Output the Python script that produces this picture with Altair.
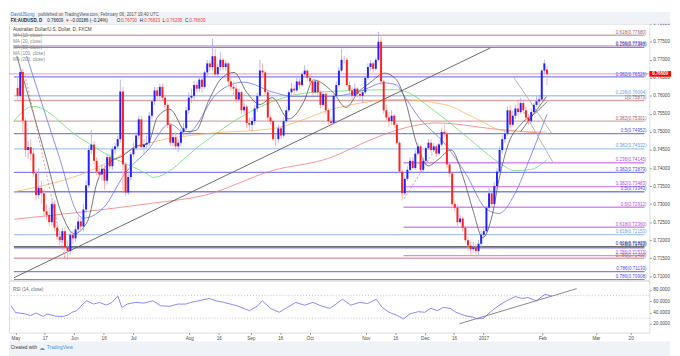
import altair as alt
import pandas as pd

# ---------------- data ----------------
# one bar per weekday; bar 0 = 2 May 2016, bar 200 = 6 Feb 2017
bar_first = -1
opens = [.7622,.7600,.7666,.7531,.7450,.7458,.7440,.7385,.7325,.7345,
         .7330,.7280,.7270,.7250,.7300,.7235,.7210,.7200,.7225,.7180,
         .7170,.7215,.7205,.7230,.7252,.7238,.7285,.7352,.7450,.7465,
         .7420,.7390,.7382,.7398,.7365,.7430,.7405,.7452,.7460,.7480,
         .7612,.7410,.7332,.7375,.7438,.7455,.7490,.7535,.7458,.7465,
         .7470,.7545,.7585,.7615,.7600,.7625,.7595,.7575,.7520,.7470,
         .7485,.7460,.7470,.7500,.7510,.7560,.7595,.7600,.7630,.7620,
         .7645,.7625,.7665,.7690,.7680,.7710,.7660,.7680,.7700,.7680,
         .7690,.7640,.7625,.7620,.7590,.7610,.7560,.7570,.7525,.7520,
         .7530,.7565,.7600,.7670,.7665,.7610,.7540,.7530,.7480,.7480,
         .7510,.7490,.7530,.7560,.7610,.7620,.7615,.7640,.7630,.7660,
         .7670,.7650,.7640,.7610,.7640,.7610,.7575,.7605,.7560,.7530,
         .7525,.7600,.7630,.7670,.7700,.7700,.7630,.7615,.7600,.7620,
         .7605,.7600,.7610,.7650,.7680,.7690,.7675,.7700,.7750,.7640,
         .7560,.7540,.7530,.7545,.7520,.7470,.7390,.7330,.7370,.7395,
         .7420,.7400,.7440,.7460,.7395,.7420,.7455,.7470,.7450,.7460,
         .7440,.7465,.7500,.7495,.7410,.7385,.7300,.7290,.7250,.7260,
         .7235,.7200,.7185,.7175,.7180,.7170,.7190,.7215,.7225,.7290,
         .7330,.7300,.7350,.7390,.7450,.7480,.7495,.7560,.7520,.7545,
         .7565,.7555,.7580,.7560,.7540,.7530,.7555,.7575,.7585,.7590,
         .7670,.7673]
highs = [.7650,.7680,.7675,.7540,.7475,.7480,.7455,.7395,.7400,.7365,
         .7340,.7300,.7290,.7310,.7310,.7245,.7225,.7235,.7235,.7200,
         .7225,.7225,.7240,.7265,.7262,.7300,.7365,.7460,.7505,.7475,
         .7430,.7400,.7410,.7410,.7440,.7440,.7460,.7470,.7490,.7645,
         .7625,.7415,.7385,.7445,.7470,.7500,.7545,.7545,.7480,.7490,
         .7555,.7590,.7625,.7625,.7635,.7635,.7600,.7580,.7525,.7495,
         .7500,.7480,.7510,.7525,.7570,.7610,.7620,.7640,.7640,.7655,
         .7650,.7670,.7700,.7700,.7758,.7730,.7690,.7720,.7705,.7700,
         .7695,.7650,.7640,.7630,.7620,.7615,.7580,.7575,.7540,.7540,
         .7575,.7610,.7700,.7690,.7670,.7615,.7545,.7535,.7495,.7520,
         .7515,.7540,.7570,.7615,.7635,.7630,.7650,.7650,.7665,.7685,
         .7675,.7660,.7645,.7645,.7645,.7615,.7610,.7610,.7565,.7540,
         .7605,.7640,.7680,.7730,.7710,.7705,.7640,.7625,.7635,.7625,
         .7615,.7615,.7655,.7690,.7700,.7695,.7705,.7778,.7765,.7645,
         .7575,.7555,.7560,.7550,.7525,.7475,.7395,.7380,.7405,.7430,
         .7430,.7450,.7470,.7465,.7430,.7460,.7480,.7480,.7470,.7465,
         .7470,.7510,.7520,.7500,.7415,.7390,.7310,.7300,.7270,.7265,
         .7240,.7210,.7195,.7195,.7190,.7200,.7225,.7235,.7295,.7345,
         .7340,.7360,.7400,.7460,.7490,.7505,.7570,.7575,.7560,.7575,
         .7590,.7595,.7590,.7570,.7550,.7565,.7580,.7600,.7600,.7675,
         .7700,.76823]
lows = [.7590,.7592,.7495,.7430,.7425,.7420,.7375,.7310,.7315,.7300,
        .7265,.7255,.7240,.7240,.7225,.7200,.7185,.7190,.7150,.7145,
        .7160,.7190,.7195,.7220,.7225,.7225,.7275,.7345,.7440,.7410,
        .7380,.7370,.7365,.7340,.7355,.7395,.7395,.7440,.7455,.7470,
        .7330,.7322,.7325,.7365,.7430,.7450,.7480,.7450,.7440,.7455,
        .7460,.7535,.7575,.7590,.7590,.7585,.7565,.7510,.7460,.7460,
        .7450,.7445,.7460,.7490,.7505,.7550,.7580,.7590,.7610,.7610,
        .7610,.7620,.7655,.7670,.7670,.7650,.7650,.7670,.7670,.7670,
        .7630,.7615,.7600,.7580,.7585,.7550,.7550,.7510,.7505,.7500,
        .7520,.7555,.7595,.7650,.7600,.7530,.7520,.7475,.7460,.7470,
        .7480,.7485,.7525,.7555,.7600,.7600,.7610,.7620,.7625,.7655,
        .7640,.7630,.7600,.7605,.7600,.7565,.7570,.7550,.7520,.7510,
        .7520,.7595,.7625,.7665,.7690,.7625,.7600,.7590,.7595,.7595,
        .7590,.7580,.7605,.7645,.7670,.7665,.7670,.7695,.7630,.7550,
        .7530,.7515,.7520,.7510,.7465,.7385,.7310,.7325,.7365,.7390,
        .7395,.7395,.7435,.7390,.7385,.7415,.7450,.7440,.7445,.7430,
        .7435,.7460,.7485,.7400,.7375,.7295,.7280,.7240,.7245,.7225,
        .7195,.7170,.7160,.7165,.7155,.7160,.7180,.7205,.7220,.7285,
        .7290,.7295,.7340,.7385,.7440,.7470,.7490,.7510,.7515,.7535,
        .7545,.7550,.7550,.7530,.7520,.7525,.7550,.7570,.7575,.7585,
        .7660,.76295]
closes = [.7600,.7666,.7531,.7450,.7458,.7440,.7385,.7325,.7345,.7330,
          .7280,.7270,.7250,.7300,.7235,.7210,.7200,.7225,.7180,.7170,
          .7215,.7205,.7230,.7252,.7238,.7285,.7352,.7450,.7465,.7420,
          .7390,.7382,.7398,.7365,.7430,.7405,.7452,.7460,.7480,.7612,
          .7410,.7332,.7375,.7438,.7455,.7490,.7535,.7458,.7465,.7470,
          .7545,.7585,.7615,.7600,.7625,.7595,.7575,.7520,.7470,.7485,
          .7460,.7470,.7500,.7510,.7560,.7595,.7600,.7630,.7620,.7645,
          .7625,.7665,.7690,.7680,.7710,.7660,.7680,.7700,.7680,.7690,
          .7640,.7625,.7620,.7590,.7610,.7560,.7570,.7525,.7520,.7530,
          .7565,.7600,.7670,.7665,.7610,.7540,.7530,.7480,.7480,.7510,
          .7490,.7530,.7560,.7610,.7620,.7615,.7640,.7630,.7660,.7670,
          .7650,.7640,.7610,.7640,.7610,.7575,.7605,.7560,.7530,.7525,
          .7600,.7630,.7670,.7700,.7700,.7630,.7615,.7600,.7620,.7605,
          .7600,.7610,.7650,.7680,.7690,.7675,.7700,.7750,.7640,.7560,
          .7540,.7530,.7545,.7520,.7470,.7390,.7330,.7370,.7395,.7420,
          .7400,.7440,.7460,.7395,.7420,.7455,.7470,.7450,.7460,.7440,
          .7465,.7500,.7495,.7410,.7385,.7300,.7290,.7250,.7260,.7235,
          .7200,.7185,.7175,.7180,.7170,.7190,.7215,.7225,.7290,.7330,
          .7300,.7350,.7390,.7450,.7480,.7495,.7560,.7520,.7545,.7565,
          .7555,.7580,.7560,.7540,.7530,.7555,.7575,.7585,.7590,.7670,
          .7690,.76609]
last_price = 0.76609

ma10_i = [-1.3, 9.6, 15.8, 20.5, 25.6, 29.2, 34.0, 38.7, 43.8, 48.5, 52.1, 56.8, 63.0, 66.7,
          71.4, 76.5, 81.2, 85.9, 91.0, 95.7, 101.9, 107.7, 111.3, 118.6, 123.7, 128.4, 133.1,
          138.2, 142.9, 145.5, 151.3, 154.9, 158.6, 163.6, 168.4, 172.0, 175.6, 179.3, 181.8,
          185.4, 190.2, 196.3, 200.0]
ma10_p = [.7711, .7433, .7272, .7218, .7253, .7361, .7415, .7433, .7460, .7468, .7541, .7563,
          .7501, .7504, .7584, .7649, .7665, .7611, .7576, .7595, .7536, .7584, .7644, .7611,
          .7568, .7611, .7638, .7663, .7644, .7603, .7450, .7406, .7423, .7450, .7369, .7280,
          .7207, .7272, .7369, .7468, .7522, .7557, .7584]
ma20_i = [2.4, 14.7, 22.0, 23.8, 31.4, 40.1, 48.5, 56.8, 63.0, 75.0, 84.8, 95.7, 104.0, 116.4,
          128.4, 138.2, 142.9, 145.5, 151.3, 161.1, 169.5, 176.7, 181.8, 187.6, 193.8, 200.0]
ma20_p = [.7711, .7433, .7272, .7261, .7288, .7388, .7450, .7522, .7495, .7609, .7638, .7611,
          .7598, .7598, .7611, .7636, .7630, .7603, .7541, .7468, .7380, .7288, .7274, .7326,
          .7433, .7549]
ma50_i = [-2.4, 4.9, 22.0, 34.0, 48.5, 50.3, 69.2, 81.2, 95.7, 110.2, 142.9, 146.6, 157.5,
          169.5, 181.8, 187.6, 193.8, 200.0]
ma50_p = [.7530, .7571, .7487, .7433, .7382, .7374, .7468, .7530, .7584, .7609, .7617, .7611,
          .7557, .7487, .7415, .7393, .7396, .7423]
ma100_i = [-2.4, 23.1, 48.5, 70.3, 95.7, 121.1, 142.9, 161.1, 172.0, 184.0, 200.0]
ma100_p = [.7334, .7382, .7468, .7495, .7509, .7568, .7590, .7576, .7541, .7503, .7500]
ma200_i = [-2.4, 48.5, 70.3, 95.7, 117.5, 132.0, 143.0, 158.5, 179.0, 200.0]
ma200_p = [.7258, .7301, .7325, .7393, .7428, .7475, .7505, .7525, .7509, .7495]

rsi_i = [-1.6, 0.0, 3.8, 5.6, 7.8, 10.4, 11.8, 15.1, 18.0, 19.8, 21.2, 22.9, 25.2, 26.7, 29.2,
         31.4, 34.0, 36.1, 38.3, 39.8, 41.8, 44.9, 48.1, 51.4, 54.3, 57.6, 60.8, 63.7, 65.6,
         68.5, 72.5, 75.0, 77.9, 82.8, 87.5, 90.6, 92.3, 95.4, 98.6, 101.7, 104.8, 108.1,
         111.2, 114.2, 117.5, 119.9, 122.2, 125.4, 128.6, 131.7, 134.9, 137.1, 139.7, 142.8,
         145.1, 147.5, 150.6, 153.0, 155.3, 157.7, 160.0, 162.5, 164.7, 168.0, 171.1, 172.7,
         175.1, 177.4, 180.6, 183.6, 186.9, 189.3, 191.6, 194.8, 198.0, 200.3]
rsi_v = [52, 40, 37.5, 34.6, 39, 33, 37.5, 33.4, 33, 35.7, 40.4, 43, 55, 60.8, 55, 57.9, 53.2,
         58, 69.5, 49, 55, 58, 56.7, 60.8, 52, 51, 55, 55, 58, 60.8, 65, 60.8, 58, 52, 43.3, 52,
         60.8, 47.4, 40.4, 49, 58, 53, 58, 52, 47.4, 55, 63.7, 53, 58, 56, 63.7, 49, 40.4, 34.6,
         28.7, 37.5, 41.5, 40.4, 47.4, 43.3, 49, 47.4, 40.4, 34.6, 31.7, 28.7, 30, 40.4, 52, 60.8,
         68.4, 65, 66.6, 60.8, 72.4, 69.5]
rsi_levels = [30, 70]

fib_price = [0.77680, 0.77384, 0.77343, 0.76526, 0.76004, 0.75873, 0.75301, 0.74952, 0.74532,
             0.74145, 0.73879, 0.73483, 0.73343, 0.72912, 0.72360, 0.72153, 0.71823, 0.71792,
             0.71573, 0.71499, 0.71130, 0.70908]
fib_text = ["0.618(0.77680)", "0.786(0.77384)", "0.236(0.77343)", "0.382(0.76526)",
            "0.236(0.76004)", "1(0.75873)", "0.382(0.75301)", "0.5(0.74952)", "0.382(0.74532)",
            "0.236(0.74145)", "0.382(0.73879)", "0.382(0.73483)", "0.5(0.73343)", "0.5(0.72912)",
            "0.618(0.72360)", "0.618(0.72153)", "0.618(0.71823)", "0.5(0.71792)",
            "0.786(0.71573)", "0.786(0.71499)", "0.786(0.71130)", "0.786(0.70908)"]
fib_tool = ["brown", "brown", "blue", "blue", "lblue", "brown", "brown", "blue", "lblue",
            "purple", "blue", "purple", "blue", "purple", "purple", "lblue", "black", "blue",
            "purple", "brown", "blue", "blue"]
fib_from = [-2.4, -2.4, -2.4, -2.4, -2.4, -2.4, -2.4, -2.4, -2.4, 145.5, -2.4, 145.5, -2.4,
            145.5, 145.5, -2.4, -2.4, -2.4, 145.5, -2.4, -2.4, -2.4]

trend_name = ["support", "wedge_a", "wedge_b", "rise"]
trend_i0 = [-2.4, 187.3, 191.3, 190.0]
trend_p0 = [0.7096, 0.7652, 0.7555, 0.7501]
trend_i1 = [178.5, 201.8, 202.3, 199.8]
trend_p1 = [0.7733, 0.7496, 0.7415, 0.7598]
diag_name = ["fib_may", "fib_nov"]
diag_i0 = [1.9, 145.8]
diag_p0 = [0.7657, 0.7315]
diag_i1 = [16.9, 161.2]
diag_p1 = [0.7150, 0.7495]
rsi_trend_i = [166.0, 209.8]
rsi_trend_v = [20.0, 82.4]

tick_i = [0, 11, 22, 33, 44, 65, 76, 88, 99, 110, 131, 142, 153, 164, 175, 197, 217, 230]
tick_text = ["May", "17", "Jun", "16", "Jul", "Aug", "16", "Sep", "16", "Oct", "Nov", "16",
             "Dec", "16", "2017", "Feb", "Mar", "20"]
price_ticks = [0.710, 0.715, 0.720, 0.725, 0.730, 0.735, 0.740, 0.745, 0.750, 0.755, 0.760,
               0.765, 0.770, 0.775, 0.780]
rsi_ticks = [20, 40, 60, 80]

# ---------------- styles / layout ----------------
FONT = "Liberation Sans"
W, H1, H2 = 651, 261, 53
XS = alt.Scale(domain=[-2.4, 237.0], nice=False, zero=False)
PS = alt.Scale(domain=[0.70884, 0.78], nice=False, zero=False)
RS = alt.Scale(domain=[4.3, 97], nice=False, zero=False)
UP, DOWN = "#2121ff", "#ff1f1f"
UP_W, DOWN_W = "#a3a3ff", "#ff9e9e"
MA_COL = {"MA10": "#555555", "MA20": "#6b73f0", "MA50": "#66de66", "MA100": "#ffb45c", "MA200": "#f57a7a"}
FIB_LINE = {"brown": "#d9a7a7", "blue": "#8080f0", "lblue": "#abc6f2", "purple": "#d68cf0", "black": "#6e6e6e"}
FIB_TEXT = {"brown": "#a65c5c", "blue": "#4a4ae6", "lblue": "#6a9be0", "purple": "#b24ad6", "black": "#333333"}
TREND_COL = {"support": "#5a5a5a", "wedge_a": "#ababab", "wedge_b": "#ababab", "rise": "#666666"}
DIAG_COL = {"fib_may": "#e08a8a", "fib_nov": "#c77ce6"}
RED_TXT = "#f23b3b"

PAX = alt.Axis(orient="right", values=price_ticks, format=".5f", labelFontSize=4.7,
               labelColor="#4a4a4a", labelFont=FONT, tickSize=2, tickColor="#9a9a9a",
               domain=False, grid=False, labelPadding=1.5, title=None)
RAX = alt.Axis(orient="right", values=rsi_ticks, format=".4f", labelFontSize=4.7,
               labelColor="#4a4a4a", labelFont=FONT, tickSize=2, tickColor="#9a9a9a",
               domain=False, grid=False, labelPadding=1.5, title=None)
label_expr = ("[" + ",".join("'%s'" % t for t in tick_text) + "][indexof(["
              + ",".join(str(v) for v in tick_i) + "], datum.value)]")
XAX = alt.Axis(values=tick_i, labelExpr=label_expr, labelFontSize=4.7, labelColor="#4a4a4a",
               labelFont=FONT, tickSize=2, tickColor="#9a9a9a", domain=False, grid=False,
               labelPadding=1, title=None)


def X(field):
    return alt.X(field, scale=XS, axis=None, title=None)


def Y(field):
    return alt.Y(field, scale=PS, axis=PAX, title=None)


def RY(field):
    return alt.Y(field, scale=RS, axis=RAX, title=None)


# ---------------- tables ----------------
idx = list(range(bar_first, bar_first + len(closes)))
candles = pd.DataFrame({"i": idx, "open": opens, "high": highs, "low": lows, "close": closes})
candles["body"] = [UP if c >= o else DOWN for o, c in zip(opens, closes)]
candles["wick"] = [UP_W if c >= o else DOWN_W for o, c in zip(opens, closes)]

ma_rows = []
for name, xs, ps in [("MA200", ma200_i, ma200_p), ("MA100", ma100_i, ma100_p),
                     ("MA50", ma50_i, ma50_p), ("MA20", ma20_i, ma20_p), ("MA10", ma10_i, ma10_p)]:
    for a, b in zip(xs, ps):
        ma_rows.append({"ma": name, "i": a, "p": b, "col": MA_COL[name]})
ma_df = pd.DataFrame(ma_rows)

fib_df = pd.DataFrame({"p": fib_price, "label": fib_text, "x0": fib_from, "x1": [237.0] * len(fib_price),
                       "lc": [FIB_LINE[t] for t in fib_tool], "tc": [FIB_TEXT[t] for t in fib_tool]})

tr_rows = []
for n, a0, b0, a1, b1 in zip(trend_name, trend_i0, trend_p0, trend_i1, trend_p1):
    tr_rows += [{"n": n, "i": a0, "p": b0, "col": TREND_COL[n]}, {"n": n, "i": a1, "p": b1, "col": TREND_COL[n]}]
tr_df = pd.DataFrame(tr_rows)
dg_rows = []
for n, a0, b0, a1, b1 in zip(diag_name, diag_i0, diag_p0, diag_i1, diag_p1):
    dg_rows += [{"n": n, "i": a0, "p": b0, "col": DIAG_COL[n]}, {"n": n, "i": a1, "p": b1, "col": DIAG_COL[n]}]
dg_df = pd.DataFrame(dg_rows)

rsi_df = pd.DataFrame({"i": rsi_i, "v": rsi_v})
rsi_lv = pd.DataFrame({"v": rsi_levels})
rsi_tr = pd.DataFrame({"i": rsi_trend_i, "v": rsi_trend_v})
last_df = pd.DataFrame({"p": [last_price], "t": ["%.5f" % last_price]})
one = pd.DataFrame({"k": [0]})


def txt(text, x, y, color, size=4.5, weight="normal", align="left", baseline="middle", font=FONT):
    return alt.Chart(pd.DataFrame({"t": [text]})).mark_text(
        align=align, baseline=baseline, fontSize=size, font=font, fontWeight=weight, color=color
    ).encode(x=alt.value(x), y=alt.value(y), text="t:N")


# ---------------- main price panel ----------------
header_band = alt.Chart(one).mark_rect(color="#eff2f6").encode(
    x=alt.value(0), x2=alt.value(W + 21), y=alt.value(-12), y2=alt.value(0))

head = [txt("DavidJSong", 1.7, -9, "#3d7bd9"),
        txt("published on TradingView.com, February 06, 2017 19:40 UTC", 29.8, -9, "#555555")]
seg2 = [("FX:AUDUSD, D", 1.7, "#222222", "bold"), ("0.76609", 39, "#222222", "normal"),
        ("▼", 57.3, RED_TXT, "normal"), ("−0.00186 (−0.24%)", 62, "#222222", "normal"),
        ("O:", 109.5, "#222222", "normal"), ("0.76730", 114, RED_TXT, "normal"),
        ("H:", 133, "#222222", "normal"), ("0.76823", 137.5, RED_TXT, "normal"),
        ("L:", 156, "#222222", "normal"), ("0.76295", 160, RED_TXT, "normal"),
        ("C:", 179, "#222222", "normal"), ("0.76609", 183.5, RED_TXT, "normal")]
head += [txt(t, x, -3, c, weight=w) for t, x, c, w in seg2]

fib_rules = alt.Chart(fib_df).mark_rule(strokeWidth=1.4, clip=True).encode(
    x=X("x0:Q"), x2="x1:Q", y=Y("p:Q"), color=alt.Color("lc:N", scale=None))
fib_labels = alt.Chart(fib_df).mark_text(align="right", baseline="bottom", dy=-0.4, fontSize=4.6,
                                         font=FONT).encode(
    x=alt.value(W - 3), y=Y("p:Q"), text="label:N", color=alt.Color("tc:N", scale=None))
price_line = alt.Chart(last_df).mark_rule(color="#ff4d4d", strokeWidth=0.6).encode(y=Y("p:Q"))

ma_lines = alt.Chart(ma_df).mark_line(strokeWidth=0.8, interpolate="monotone", clip=True).encode(
    x=X("i:Q"), y=Y("p:Q"), color=alt.Color("col:N", scale=None), detail="ma:N", order="i:Q")
trend_lines = alt.Chart(tr_df).mark_line(strokeWidth=0.9, clip=True).encode(
    x=X("i:Q"), y=Y("p:Q"), color=alt.Color("col:N", scale=None), detail="n:N")
diag_lines = alt.Chart(dg_df).mark_line(strokeWidth=0.9, strokeDash=[2, 2], clip=True).encode(
    x=X("i:Q"), y=Y("p:Q"), color=alt.Color("col:N", scale=None), detail="n:N")

wicks = alt.Chart(candles).mark_rule(strokeWidth=0.8).encode(
    x=X("i:Q"), y=Y("low:Q"), y2="high:Q", color=alt.Color("wick:N", scale=None))
bodies = alt.Chart(candles).mark_bar(size=2.0).encode(
    x=X("i:Q"), y=Y("open:Q"), y2="close:Q", color=alt.Color("body:N", scale=None))

legend_title = txt("Australian Dollar/U.S. Dollar, D, FXCM", 4, 3.0, "#3a3a3a", size=4.7, baseline="top")
legend_ma = alt.Chart(one).mark_text(align="left", baseline="top", fontSize=4.7, font=FONT,
                                     color="#8a8a8a", lineHeight=6.1).encode(
    x=alt.value(4), y=alt.value(9.2),
    text=alt.value(["MA (10, close)", "MA (20, close)", "MA (50, close)", "MA (100, close)", "MA (200, close)"]))

tag = alt.Chart(last_df).mark_point(shape="M-1,-0.26L1,-0.26L1,0.26L-1,0.26Z", filled=True,
                                    size=484, color="#ff0000", opacity=1).encode(
    x=alt.value(W + 11), y=Y("p:Q"))
tag_text = alt.Chart(last_df).mark_text(align="center", baseline="middle", fontSize=4.5, font=FONT,
                                        color="white", fontWeight="bold").encode(
    x=alt.value(W + 11), y=Y("p:Q"), text="t:N")

main = alt.layer(header_band, *head, fib_rules, price_line, ma_lines, trend_lines, diag_lines,
                 wicks, bodies, fib_labels, legend_title, legend_ma, tag, tag_text).properties(
    width=W, height=H1)

# ---------------- RSI panel ----------------
rsi_levels_l = alt.Chart(rsi_lv).mark_rule(color="#a8a8a8", strokeWidth=0.7, strokeDash=[1, 2]).encode(
    y=RY("v:Q"))
rsi_line = alt.Chart(rsi_df).mark_line(color="#7b7bf0", strokeWidth=0.9, clip=True).encode(
    x=alt.X("i:Q", scale=XS, axis=XAX, title=None), y=RY("v:Q"))
rsi_trend = alt.Chart(rsi_tr).mark_line(color="#7a7a7a", strokeWidth=0.9, clip=True).encode(
    x=alt.X("i:Q", scale=XS, axis=XAX, title=None), y=RY("v:Q"))
rsi_label = txt("RSI (14, close)", 4, 10, "#6a6a6a", size=4.7)
footer_band = alt.Chart(one).mark_rect(color="#eff2f6").encode(
    x=alt.value(0), x2=alt.value(W + 21), y=alt.value(H2 + 9), y2=alt.value(H2 + 30))
foot = [txt("Created with", 1.7, H2 + 15.5, "#3a3a3a", size=4.8),
        txt("☁", 30.5, H2 + 15.5, "#4aa3df", size=6, font="DejaVu Sans"),
        txt("TradingView", 38.5, H2 + 15.5, "#4a90d9", size=4.8)]

rsi = alt.layer(footer_band, rsi_levels_l, rsi_line, rsi_trend, rsi_label, *foot).properties(
    width=W, height=H2)

chart = alt.vconcat(main, rsi, spacing=0, bounds="flush").properties(padding=0).configure_view(
    stroke="#bdbdbd", strokeWidth=0.8, fill="white").configure(background="white")

chart.save("out.html", embed_options={"renderer": "svg", "actions": False})
